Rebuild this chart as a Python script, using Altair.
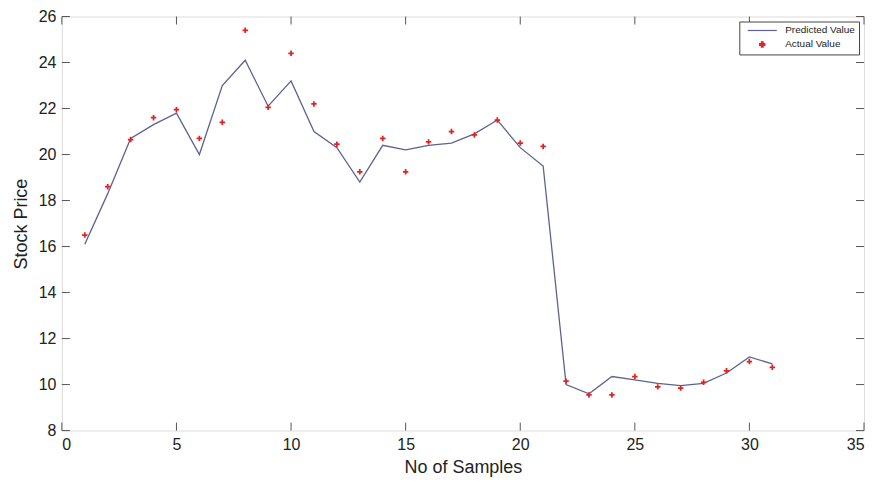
import altair as alt
import pandas as pd

samples = list(range(1, 32))
predicted = [16.1, 18.3, 20.7, 21.3, 21.8, 20.0, 23.0, 24.1, 22.1, 23.2,
             21.0, 20.3, 18.8, 20.4, 20.2, 20.4, 20.5, 20.9, 21.5, 20.3,
             19.5, 10.0, 9.6, 10.35, 10.2, 10.05, 9.95, 10.05, 10.5, 11.2, 10.9]
actual = [16.5, 18.6, 20.65, 21.6, 21.95, 20.7, 21.4, 25.4, 22.05, 24.4,
          22.2, 20.45, 19.25, 20.7, 19.25, 20.55, 21.0, 20.85, 21.5, 20.5,
          20.35, 10.15, 9.55, 9.55, 10.35, 9.9, 9.85, 10.1, 10.6, 11.0, 10.75]
x_ticks = [0, 5, 10, 15, 20, 25, 30, 35]
y_ticks = [8, 10, 12, 14, 16, 18, 20, 22, 24, 26]
series_names = ["Predicted Value", "Actual Value"]

FONT = "Liberation Sans, Arial, sans-serif"
W, H = 804, 415
LINE_C = "#5c6390"
PT_C = "#e02424"
AX_C = "#555555"

LINE_PATH = "M-5.5,0L5.5,0"
PLUS_PATH = ("M-1,-0.32L-0.32,-0.32L-0.32,-1L0.32,-1L0.32,-0.32L1,-0.32"
             "L1,0.32L0.32,0.32L0.32,1L-0.32,1L-0.32,0.32L-1,0.32Z")

df_pred = pd.DataFrame({"x": samples, "y": predicted, "series": series_names[0]})
df_act = pd.DataFrame({"x": samples, "y": actual, "series": series_names[1]})
df_xt = pd.DataFrame({"t": x_ticks})
df_yt = pd.DataFrame({"t": y_ticks})

xs = alt.Scale(domain=[0, 35], nice=False, zero=False)
ys = alt.Scale(domain=[8, 26], nice=False, zero=False)

color = alt.Color("series:N",
                  scale=alt.Scale(domain=series_names, range=[LINE_C, PT_C]),
                  legend=alt.Legend(title=None, orient="top-right", offset=5,
                                    strokeColor="#444", padding=4, fillColor="white",
                                    labelFont=FONT, labelFontSize=10, labelColor="#222",
                                    symbolSize=28, rowPadding=3, symbolStrokeWidth=1.2,
                                    symbolOffset=14, labelOffset=18))
shape = alt.Shape("series:N",
                  scale=alt.Scale(domain=series_names, range=[LINE_PATH, PLUS_PATH]),
                  legend=None)

xaxis = alt.Axis(title="No of Samples", values=x_ticks, grid=False, domain=False,
                 tickSize=0, labelPadding=6, labelFont=FONT, labelFontSize=16,
                 labelColor="#222", titleFont=FONT, titleFontSize=18,
                 titleFontWeight="normal", titleColor="#222", titlePadding=6)
yaxis = alt.Axis(title="Stock Price", values=y_ticks, grid=False, domain=False,
                 tickSize=0, labelPadding=6, labelFont=FONT, labelFontSize=16,
                 labelColor="#222", titleFont=FONT, titleFontSize=18,
                 titleFontWeight="normal", titleColor="#222", titlePadding=8)

line = alt.Chart(df_pred).mark_line(strokeWidth=1.3).encode(
    x=alt.X("x:Q", scale=xs, axis=xaxis),
    y=alt.Y("y:Q", scale=ys, axis=yaxis),
    color=color,
)

pts = alt.Chart(df_act).mark_point(filled=True, size=30, opacity=1).encode(
    x=alt.X("x:Q", scale=xs),
    y=alt.Y("y:Q", scale=ys),
    color=color,
    shape=shape,
)

tb = alt.Chart(df_xt).mark_rule(color=AX_C, strokeWidth=1).encode(
    x=alt.X("t:Q", scale=xs), y=alt.value(H), y2=alt.value(H - 8))
tt = alt.Chart(df_xt).mark_rule(color=AX_C, strokeWidth=1).encode(
    x=alt.X("t:Q", scale=xs), y=alt.value(0), y2=alt.value(8))
tl = alt.Chart(df_yt).mark_rule(color=AX_C, strokeWidth=1).encode(
    y=alt.Y("t:Q", scale=ys), x=alt.value(0), x2=alt.value(8))
tr = alt.Chart(df_yt).mark_rule(color=AX_C, strokeWidth=1).encode(
    y=alt.Y("t:Q", scale=ys), x=alt.value(W), x2=alt.value(W - 8))

chart = alt.layer(tb, tt, tl, tr, line, pts).properties(
    width=W, height=H,
    autosize=alt.AutoSizeParams(type="none"),
    padding={"left": 54, "top": 8, "right": 5, "bottom": 46},
).configure_view(stroke=AX_C, strokeWidth=1.2).configure(background="white")

chart.save("out.html", embed_options={"renderer": "svg", "actions": False})
